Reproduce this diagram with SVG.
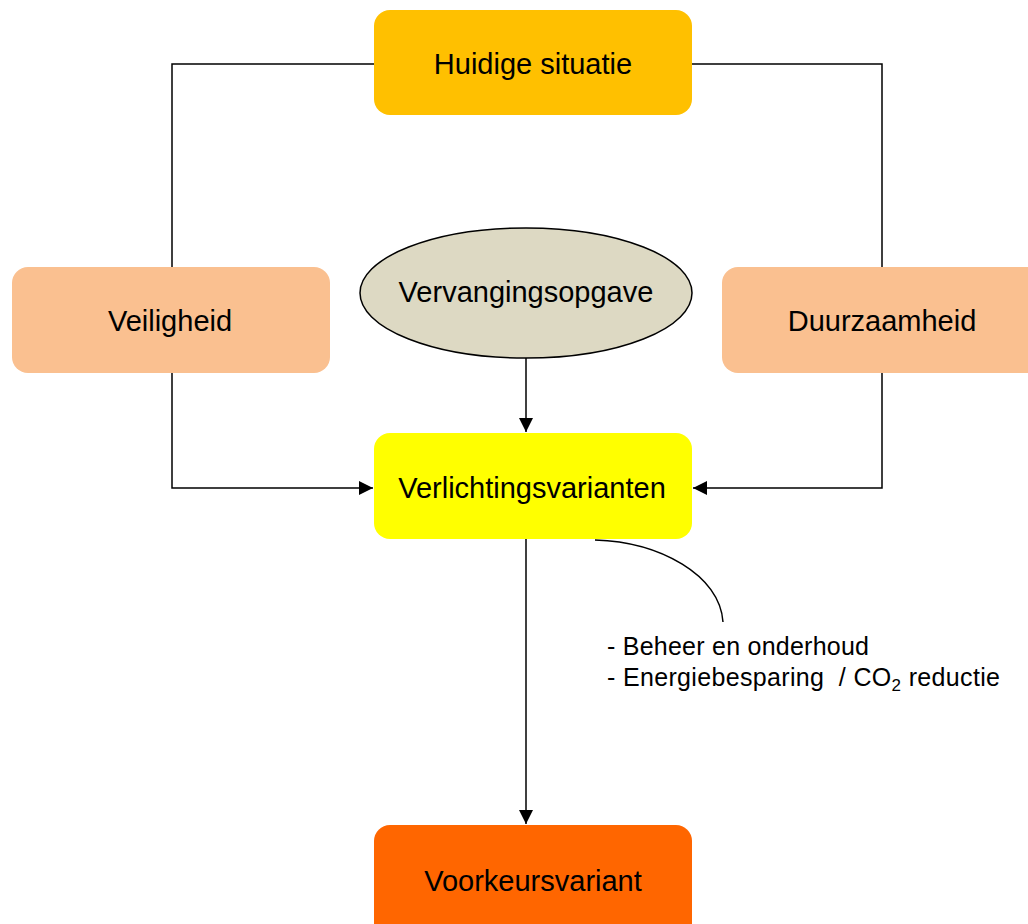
<svg xmlns="http://www.w3.org/2000/svg" width="1028" height="924" viewBox="0 0 1028 924">
<style>
text{font-family:"Liberation Sans",Arial,sans-serif;fill:#000}
.lbl{font-size:29px;text-anchor:middle;dominant-baseline:central}
.note{font-size:25px;white-space:pre}
.ln{fill:none;stroke:#000;stroke-width:1.5}
</style>
<defs>
<marker id="ah" viewBox="0 0 14 14" refX="14" refY="7" markerWidth="14" markerHeight="14" markerUnits="userSpaceOnUse" orient="auto">
<path d="M0,0 L14,7 L0,14 z" fill="#000"/>
</marker>
</defs>
<rect width="1028" height="924" fill="#fff"/>
<g id="connectors">
<polyline class="ln" points="374,64 172,64 172,267"/>
<polyline class="ln" points="692,64 882,64 882,267"/>
<polyline class="ln" points="172,373 172,488 373,488" marker-end="url(#ah)"/>
<polyline class="ln" points="882,373 882,488 693,488" marker-end="url(#ah)"/>
<line class="ln" x1="526" y1="358" x2="526" y2="432" marker-end="url(#ah)"/>
<line class="ln" x1="526" y1="539" x2="526" y2="824" marker-end="url(#ah)"/>
<path class="ln" d="M595,540 C660,542 720,575 723,622"/>
</g>
<g id="huidige">
<rect x="374" y="10" width="318" height="105" rx="16" fill="#FFC000"/>
<text class="lbl" x="533" y="64">Huidige situatie</text>
</g>
<g id="veiligheid">
<rect x="12" y="267" width="318" height="106" rx="16" fill="#FAC090"/>
<text class="lbl" x="170" y="321">Veiligheid</text>
</g>
<g id="duurzaamheid">
<rect x="722" y="267" width="330" height="106" rx="16" fill="#FAC090"/>
<text class="lbl" x="882" y="321">Duurzaamheid</text>
</g>
<g id="vervanging">
<ellipse cx="526" cy="293" rx="166" ry="65" fill="#DDD9C3" stroke="#000" stroke-width="1.5"/>
<text class="lbl" x="526" y="292">Vervangingsopgave</text>
</g>
<g id="verlichting">
<rect x="374" y="433" width="318" height="106" rx="16" fill="#FFFF00"/>
<text class="lbl" x="532" y="488">Verlichtingsvarianten</text>
</g>
<g id="voorkeur">
<rect x="374" y="825" width="318" height="120" rx="16" fill="#FF6600"/>
<text class="lbl" x="533" y="881">Voorkeursvariant</text>
</g>
<g id="notes">
<text class="note" x="607" y="655" textLength="262" lengthAdjust="spacing">- Beheer en onderhoud</text>
<text class="note" x="607" y="686" textLength="393" lengthAdjust="spacing">- Energiebesparing  / CO<tspan font-size="17" dy="5">2</tspan><tspan dy="-5"> reductie</tspan></text>
</g>
</svg>
